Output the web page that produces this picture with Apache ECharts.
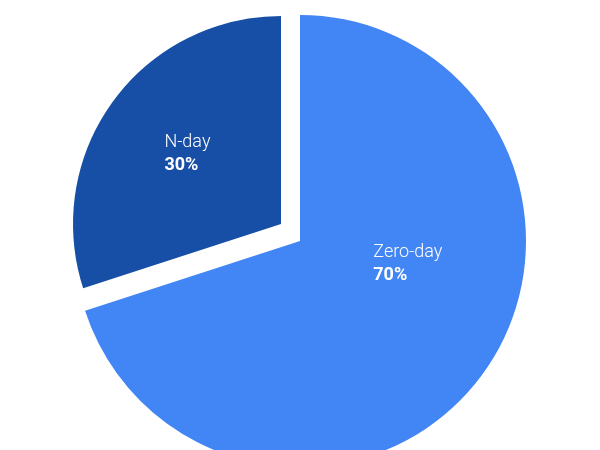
<!DOCTYPE html>
<html>
<head>
<meta charset="utf-8">
<script src="https://cdn.jsdelivr.net/npm/echarts@6/dist/echarts.min.js"></script>
<style>html,body{margin:0;padding:0;background:#fff}#c{width:600px;height:450px}</style>
</head>
<body>
<div id="c"></div>
<script>
const categories = ['Zero-day', 'N-day'];
const values = [70, 30];
const colors = ['#4285F4', '#174EA6'];

const chart = echarts.init(document.getElementById('c'), null, {renderer: 'canvas'});

function makeData(visibleIndex) {
  return categories.map((name, i) => ({
    name: name,
    value: values[i],
    itemStyle: { color: i === visibleIndex ? colors[i] : 'rgba(0,0,0,0)' },
    label: { show: i === visibleIndex },
    emphasis: { disabled: true }
  }));
}

const labelCfg = {
  show: true,
  position: 'inside',
  formatter: function (p) { return '{a|' + p.name + '}\n{b|' + p.percent.toFixed(0) + '%}'; },
  rich: {
    a: { color: '#ffffff', fontFamily: 'Roboto', fontSize: 18, fontWeight: 300, lineHeight: 23, align: 'left' },
    b: { color: '#ffffff', fontFamily: 'Roboto', fontSize: 18, fontWeight: 'bold', lineHeight: 23, align: 'left' }
  }
};

chart.setOption({
  animation: false,
  backgroundColor: '#ffffff',
  series: [
    {
      type: 'pie',
      center: [300, 241],
      radius: 226,
      startAngle: 90,
      clockwise: true,
      silent: true,
      label: labelCfg,
      labelLine: { show: false },
      labelLayout: { dx: 14, dy: -45 },
      data: makeData(0)
    },
    {
      type: 'pie',
      center: [281, 224],
      radius: 208,
      startAngle: 90,
      clockwise: true,
      silent: true,
      label: labelCfg,
      labelLine: { show: false },
      labelLayout: { dx: -7, dy: -7 },
      data: makeData(1)
    }
  ]
});
</script>
</body>
</html>
